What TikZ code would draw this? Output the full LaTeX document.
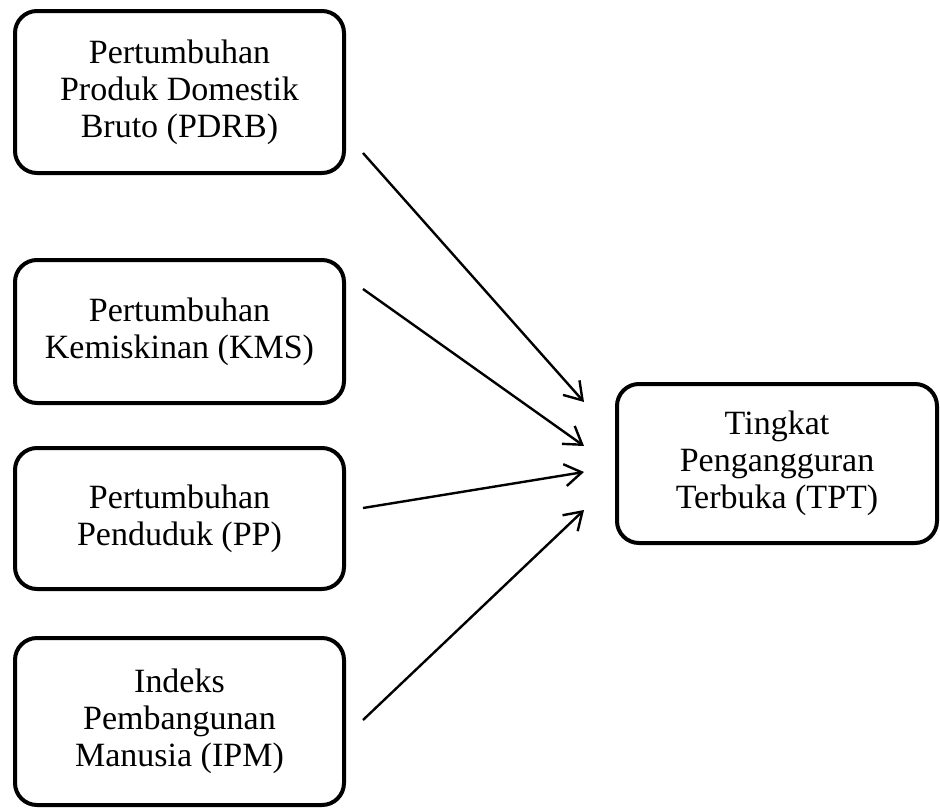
\documentclass[tikz,border=0pt]{standalone}
\usepackage{fontspec}
\setmainfont{Liberation Serif}
\usetikzlibrary{arrows.meta}
\begin{document}
\begin{tikzpicture}[x=1pt,y=-1pt,
  box/.style={draw, line width=4pt, rounded corners=22pt, align=center,
    font=\fontsize{34}{37}\selectfont, inner sep=0pt},
  conn/.style={line width=2.4pt, -{Straight Barb[length=17pt,width=22pt,line width=2.4pt]}}]
\useasboundingbox (0,0) rectangle (940,809);
\node[box, minimum width=329pt, minimum height=162pt] (b1) at (179.5,92) {Pertumbuhan\\Produk Domestik\\Bruto (PDRB)};
\node[box, minimum width=329pt, minimum height=143pt] (b2) at (179.5,331.5) {Pertumbuhan\\Kemiskinan (KMS)};
\node[box, minimum width=329pt, minimum height=141pt] (b3) at (179.5,518.5) {Pertumbuhan\\Penduduk (PP)};
\node[box, minimum width=329pt, minimum height=167pt] (b4) at (179.5,721.5) {Indeks\\Pembangunan\\Manusia (IPM)};
\node[box, minimum width=320pt, minimum height=159pt] (t) at (777,463.5) {Tingkat\\Pengangguran\\Terbuka (TPT)};
\coordinate (s1) at (363,153);
\coordinate (s2) at (363,289);
\coordinate (s3) at (363,508);
\coordinate (s4) at (363,720);
\coordinate (e1) at (584,402);
\coordinate (e2) at (584,446);
\coordinate (e3) at (584,472);
\coordinate (e4) at (584,510);
\draw[conn] (s1) -- (e1);
\draw[conn] (s2) -- (e2);
\draw[conn] (s3) -- (e3);
\draw[conn] (s4) -- (e4);
\end{tikzpicture}
\end{document}
